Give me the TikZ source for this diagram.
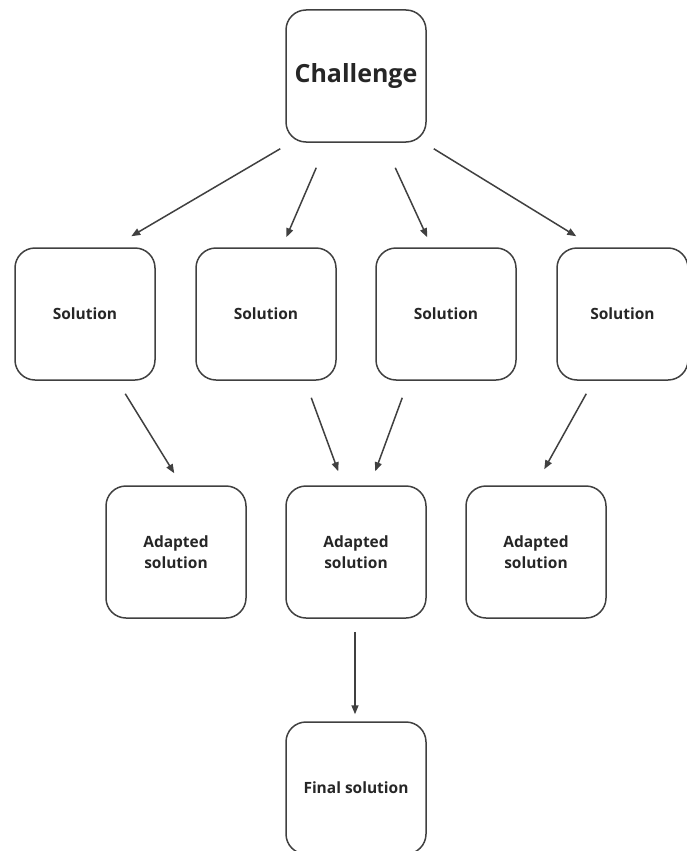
\documentclass[tikz,border=0pt]{standalone}
\usepackage{fontspec}
\setmainfont{Open Sans}
\usetikzlibrary{arrows.meta}
\definecolor{edge}{HTML}{404040}
\definecolor{ink}{HTML}{262626}
\begin{document}
\begin{tikzpicture}[x=1pt,y=-1pt,
  box/.style={draw=edge, line width=1.5pt, rounded corners=20pt, fill=white,
    minimum width=140pt, minimum height=132pt, align=center, inner sep=0pt,
    text=ink, font=\fontsize{15.5}{21}\selectfont\bfseries},
  arr/.style={draw=edge, line width=1.5pt, -{Triangle[length=9pt,width=7pt]}}]
\useasboundingbox (0,0) rectangle (687,851);
% top challenge
\node[box, font=\fontsize{25}{30}\selectfont\bfseries] (ch) at (356,76) {Challenge};
% solutions row
\node[box] (s1) at (85,314) {Solution};
\node[box] (s2) at (266,314) {Solution};
\node[box] (s3) at (446,314) {Solution};
\node[box, minimum width=131pt] (s4) at (622.5,314) {Solution};
% adapted row
\node[box] (a1) at (176,552) {Adapted\\solution};
\node[box] (a2) at (356,552) {Adapted\\solution};
\node[box] (a3) at (536,552) {Adapted\\solution};
% final
\node[box] (f) at (356,788) {Final solution};
% connectors
\draw[arr] ([shift={(-5,6)}]ch.south west) -- ([shift={(117,-11)}]s1.north west);
\draw[arr] ([shift={(31,25)}]ch.south west) -- ([shift={(91,-10)}]s2.north west);
\draw[arr] ([shift={(110,25)}]ch.south west) -- ([shift={(52,-10)}]s3.north west);
\draw[arr] ([shift={(7,6)}]ch.south east) -- ([shift={(20,-11)}]s4.north west);
\draw[arr] ([shift={(111,13)}]s1.south west) -- ([shift={(69,-12)}]a1.north west);
\draw[arr] ([shift={(116,17)}]s2.south west) -- ([shift={(53,-14)}]a2.north west);
\draw[arr] ([shift={(27,17)}]s3.south west) -- ([shift={(90,-14)}]a2.north west);
\draw[arr] ([shift={(30,13)}]s4.south west) -- ([shift={(79,-16)}]a3.north west);
\draw[arr] ([shift={(-1,13)}]a2.south) -- ([shift={(-1,-7)}]f.north);
\end{tikzpicture}
\end{document}
